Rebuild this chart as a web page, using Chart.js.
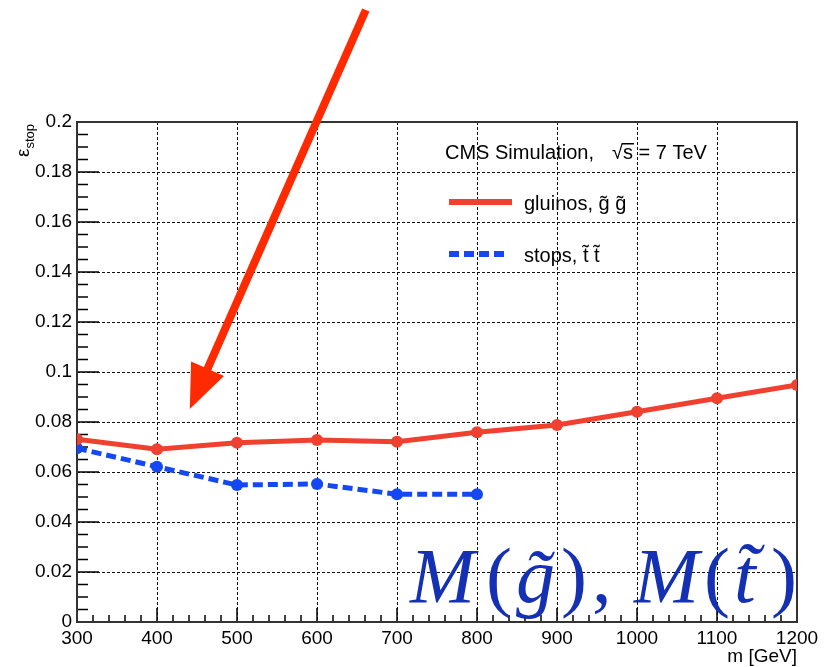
<!DOCTYPE html>
<html>
<head>
<meta charset="utf-8">
<script src="https://cdn.jsdelivr.net/npm/chart.js@4.4.0/dist/chart.umd.min.js"></script>
<style>
  html, body { margin: 0; padding: 0; background: #fff; }
  canvas { display: block; }
</style>
</head>
<body>
<canvas id="effChart" width="836" height="667"></canvas>
<script>
// values
const masses = [300, 400, 500, 600, 700, 800, 900, 1000, 1100, 1200];
const gluinoEff = [0.0731, 0.0691, 0.0717, 0.0728, 0.0721, 0.0759, 0.0788, 0.0841, 0.0895, 0.0948];
const stopMasses = [300, 400, 500, 600, 700, 800];
const stopEff = [0.0695, 0.0621, 0.0548, 0.0552, 0.0511, 0.0511];

const xTicks = [300, 400, 500, 600, 700, 800, 900, 1000, 1100, 1200];
const xTickLabels = ["300", "400", "500", "600", "700", "800", "900", "1000", "1100", "1200"];
const yTicks = [0, 0.02, 0.04, 0.06, 0.08, 0.1, 0.12, 0.14, 0.16, 0.18, 0.2];
const yTickLabels = ["0", "0.02", "0.04", "0.06", "0.08", "0.1", "0.12", "0.14", "0.16", "0.18", "0.2"];

const RED = "#f0402f";
const BLUE = "#1448f2";
const SANS = "'Liberation Sans', Arial, sans-serif";
const SERIF = "'Liberation Serif', 'Times New Roman', serif";

// ROOT-like frame: dotted grid, inward ticks, legend, arrow, labels
const rootFrame = {
    id: "rootFrame",
    beforeDatasetsDraw(chart) {
        const ctx = chart.ctx;
        const a = chart.chartArea;
        const xs = chart.scales.x;
        const ys = chart.scales.y;
        ctx.save();

        // dotted grid
        ctx.strokeStyle = "#111";
        ctx.lineWidth = 1;
        ctx.setLineDash([3, 2]);
        xTicks.forEach(v => {
            const px = Math.round(xs.getPixelForValue(v)) + 0.5;
            if (px <= a.left + 1 || px >= a.right - 1) return;
            ctx.beginPath();
            ctx.moveTo(px, a.top);
            ctx.lineTo(px, a.bottom);
            ctx.stroke();
        });
        yTicks.forEach(v => {
            const py = Math.round(ys.getPixelForValue(v)) + 0.5;
            if (py <= a.top + 1 || py >= a.bottom - 1) return;
            ctx.beginPath();
            ctx.moveTo(a.left, py);
            ctx.lineTo(a.right, py);
            ctx.stroke();
        });
        ctx.setLineDash([]);

        // minor + major ticks
        ctx.strokeStyle = "#000";
        ctx.lineWidth = 1.5;
        for (let v = 300; v <= 1200; v += 20) {
            const px = xs.getPixelForValue(v);
            const len = (v % 100 === 0) ? 14 : 7;
            ctx.beginPath();
            ctx.moveTo(px, a.bottom);
            ctx.lineTo(px, a.bottom - len);
            ctx.stroke();
        }
        for (let i = 0; i <= 40; i++) {
            const py = ys.getPixelForValue(i * 0.005);
            const len = (i % 4 === 0) ? 22 : 11;
            ctx.beginPath();
            ctx.moveTo(a.left, py);
            ctx.lineTo(a.left + len, py);
            ctx.stroke();
        }

        // frame
        ctx.lineWidth = 2;
        ctx.strokeStyle = "#333";
        ctx.strokeRect(a.left, a.top, a.right - a.left, a.bottom - a.top);
        ctx.restore();
    },
    afterDraw(chart) {
        const ctx = chart.ctx;
        const xs = chart.scales.x;
        const ys = chart.scales.y;
        ctx.save();

        // legend
        ctx.fillStyle = "#000";
        ctx.font = "20px " + SANS;
        ctx.textBaseline = "alphabetic";
        ctx.fillText("CMS Simulation,", 445, 159);
        ctx.fillText("\u221As = 7 TeV", 612, 159);
        // overline of the square root
        const rw = ctx.measureText("\u221A").width;
        const sw = ctx.measureText("s").width;
        ctx.fillRect(612 + rw - 1, 143, sw + 2, 1.5);

        ctx.strokeStyle = RED;
        ctx.lineWidth = 6;
        ctx.beginPath();
        ctx.moveTo(449, 202);
        ctx.lineTo(512, 202);
        ctx.stroke();
        ctx.fillText("gluinos, g\u0303 g\u0303", 524, 210);
        ctx.strokeStyle = BLUE;
        ctx.setLineDash([10, 5]);
        ctx.beginPath();
        ctx.moveTo(449, 254);
        ctx.lineTo(507, 254);
        ctx.stroke();
        ctx.setLineDash([]);
        ctx.fillText("stops, t\u0303 t\u0303", 524, 262);

        // axis titles
        ctx.font = "19px " + SANS;
        ctx.textAlign = "right";
        ctx.fillText("m [GeV]", 797, 662);
        ctx.textAlign = "left";
        ctx.save();
        ctx.translate(29, 157);
        ctx.rotate(-Math.PI / 2);
        ctx.font = "19px " + SANS;
        ctx.fillText("\u03B5", 0, 0);
        const ew = ctx.measureText("\u03B5").width;
        ctx.font = "13px " + SANS;
        ctx.fillText("stop", ew, 5);
        ctx.restore();

        // red arrow, anchored in data coordinates
        const x0 = xs.getPixelForValue(661), y0 = ys.getPixelForValue(0.2448);
        const x1 = xs.getPixelForValue(441), y1 = ys.getPixelForValue(0.0852);
        const ang = Math.atan2(y1 - y0, x1 - x0);
        const headLen = 44, headHalf = 18;
        const bx = x1 - headLen * Math.cos(ang), by = y1 - headLen * Math.sin(ang);
        ctx.strokeStyle = "#ff2a00";
        ctx.fillStyle = "#ff2a00";
        ctx.lineWidth = 8;
        ctx.beginPath();
        ctx.moveTo(x0, y0);
        ctx.lineTo(bx + 4 * Math.cos(ang), by + 4 * Math.sin(ang));
        ctx.stroke();
        ctx.beginPath();
        ctx.moveTo(x1, y1);
        ctx.lineTo(bx + headHalf * Math.sin(ang), by - headHalf * Math.cos(ang));
        ctx.lineTo(bx - headHalf * Math.sin(ang), by + headHalf * Math.cos(ang));
        ctx.closePath();
        ctx.fill();

        // big label
        ctx.fillStyle = "#1430b4";
        const pieces = [
            ["M", true, 410], ["(", false, 486], ["g\u0303", true, 516], [")", false, 561],
            [",", false, 592], ["M", true, 634], ["(", false, 704], ["t\u0303", true, 734], [")", false, 771]
        ];
        pieces.forEach(([t, it, x]) => {
            ctx.font = (it ? "italic " : "") + "78px " + SERIF;
            ctx.fillText(t, x, 602);
        });
        ctx.restore();
    }
};

const chart = new Chart(document.getElementById("effChart"), {
    type: "line",
    data: {
        datasets: [
            {
                label: "gluinos",
                data: masses.map((m, i) => ({ x: m, y: gluinoEff[i] })),
                borderColor: RED,
                backgroundColor: RED,
                borderWidth: 5,
                pointRadius: 6,
                pointBorderWidth: 0,
                tension: 0
            },
            {
                label: "stops",
                data: stopMasses.map((m, i) => ({ x: m, y: stopEff[i] })),
                borderColor: BLUE,
                backgroundColor: BLUE,
                borderWidth: 5,
                borderDash: [10, 5],
                pointRadius: 6,
                pointBorderWidth: 0,
                tension: 0
            }
        ]
    },
    options: {
        responsive: false,
        animation: false,
        layout: { padding: { top: 122, right: 39, left: 0, bottom: 0 } },
        plugins: { legend: { display: false }, tooltip: { enabled: false } },
        scales: {
            x: {
                type: "linear",
                min: 300,
                max: 1200,
                afterBuildTicks: s => { s.ticks = xTicks.map(v => ({ value: v })); },
                afterFit: s => { s.height = 45; },
                grid: { display: false, drawTicks: false },
                border: { display: false },
                ticks: {
                    color: "#000",
                    font: { family: SANS, size: 19 },
                    padding: 5,
                    maxRotation: 0,
                    autoSkip: false,
                    callback: (v, i) => xTickLabels[i]
                }
            },
            y: {
                min: 0,
                max: 0.2,
                afterBuildTicks: s => { s.ticks = yTicks.map(v => ({ value: v })); },
                afterFit: s => { s.width = 77; },
                grid: { display: false, drawTicks: false },
                border: { display: false },
                ticks: {
                    color: "#000",
                    font: { family: SANS, size: 19 },
                    padding: 5,
                    autoSkip: false,
                    callback: (v, i) => yTickLabels[i]
                }
            }
        }
    },
    plugins: [rootFrame]
});
</script>
</body>
</html>
